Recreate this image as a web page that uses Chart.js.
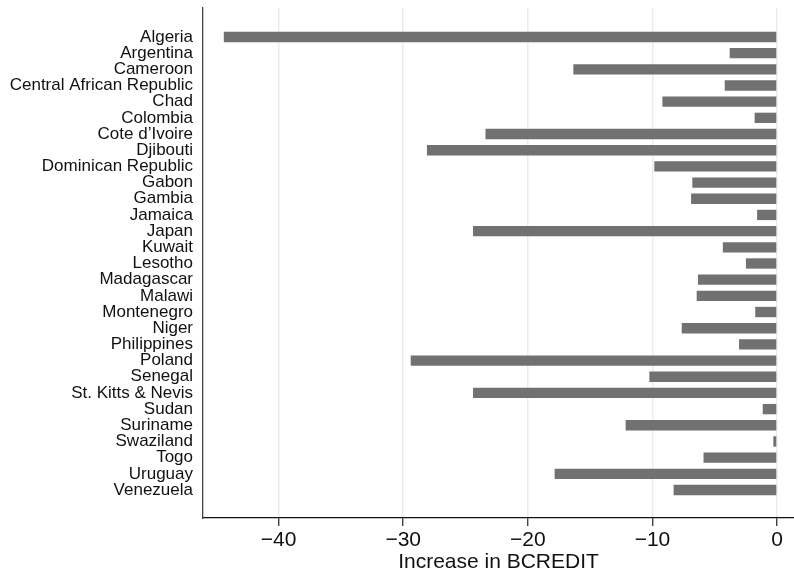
<!DOCTYPE html>
<html>
<head>
<meta charset="utf-8">
<script src="https://cdn.jsdelivr.net/npm/chart.js@4.4.0/dist/chart.umd.min.js"></script>
<style>
  html, body { margin: 0; padding: 0; background: #fff; }
  #wrap { width: 794px; height: 575px; position: relative; }
</style>
</head>
<body>
<div id="wrap"><canvas id="chart"></canvas></div>
<script>
const countries = ['Algeria', 'Argentina', 'Cameroon', 'Central African Republic', 'Chad',
  'Colombia', 'Cote d\u2019Ivoire', 'Djibouti', 'Dominican Republic', 'Gabon', 'Gambia',
  'Jamaica', 'Japan', 'Kuwait', 'Lesotho', 'Madagascar', 'Malawi', 'Montenegro', 'Niger',
  'Philippines', 'Poland', 'Senegal', 'St. Kitts & Nevis', 'Sudan', 'Suriname', 'Swaziland',
  'Togo', 'Uruguay', 'Venezuela']
const increase = [-44.4, -3.8, -16.35, -4.2, -9.2, -1.8, -23.4, -28.1, -9.85, -6.8, -6.9,
  -1.6, -24.4, -4.35, -2.5, -6.35, -6.45, -1.75, -7.65, -3.05, -29.4, -10.25, -24.4, -1.15,
  -12.15, -0.3, -5.9, -17.85, -8.3]
const xTicks = [-40, -30, -20, -10, 0]
const xTitle = 'Increase in BCREDIT'

const font = "'Liberation Sans', Arial, Helvetica, sans-serif"

// one bar per row, row number on a linear y axis so the outer gaps can match
const points = countries.map((c, i) => ({ x: increase[i], y: i }))

// drop the automatic edge padding chart.js adds for the outer tick labels
function noPad(axis) {
  axis.paddingTop = 0
  axis.paddingBottom = 0
  axis.paddingLeft = 0
  axis.paddingRight = 0
}

const ctx = document.getElementById('chart')
new Chart(ctx, {
  type: 'bar',
  data: {
    datasets: [{
      data: points,
      backgroundColor: '#717171',
      borderWidth: 0,
      barPercentage: 0.64,
      categoryPercentage: 1
    }]
  },
  options: {
    indexAxis: 'y',
    responsive: true,
    maintainAspectRatio: false,
    animation: false,
    layout: { padding: { top: 8, right: 0, bottom: 0, left: 0 } },
    plugins: {
      legend: { display: false },
      tooltip: { enabled: false }
    },
    scales: {
      x: {
        type: 'linear',
        min: -46.07,
        max: 1.36,
        afterBuildTicks: axis => { axis.ticks = xTicks.map(v => ({ value: v })) },
        afterFit: axis => { axis.height = 57; noPad(axis) },
        ticks: {
          color: '#111',
          font: { family: font, size: 21 },
          padding: 2,
          maxRotation: 0,
          callback: v => v < 0 ? '\u2212' + Math.abs(v) : String(v)
        },
        grid: {
          color: '#e6eef1',
          lineWidth: 1.5,
          tickColor: '#222',
          tickLength: 8,
          tickWidth: 1.2
        },
        border: { display: true, color: '#111', width: 1.3 },
        title: {
          display: true,
          text: xTitle,
          color: '#111',
          font: { family: font, size: 21 },
          padding: { top: 0, bottom: 0 }
        }
      },
      y: {
        type: 'linear',
        reverse: true,
        offset: false,
        min: -1.79,
        max: 29.73,
        afterBuildTicks: axis => { axis.ticks = countries.map((c, i) => ({ value: i })) },
        afterFit: axis => { axis.width = 203; noPad(axis) },
        ticks: {
          color: '#111',
          font: { family: font, size: 17 },
          padding: 10,
          autoSkip: false,
          callback: v => countries[v]
        },
        grid: { display: false, drawTicks: false, offset: false },
        border: { display: true, color: '#444', width: 1.3 }
      }
    }
  }
})
</script>
</body>
</html>
